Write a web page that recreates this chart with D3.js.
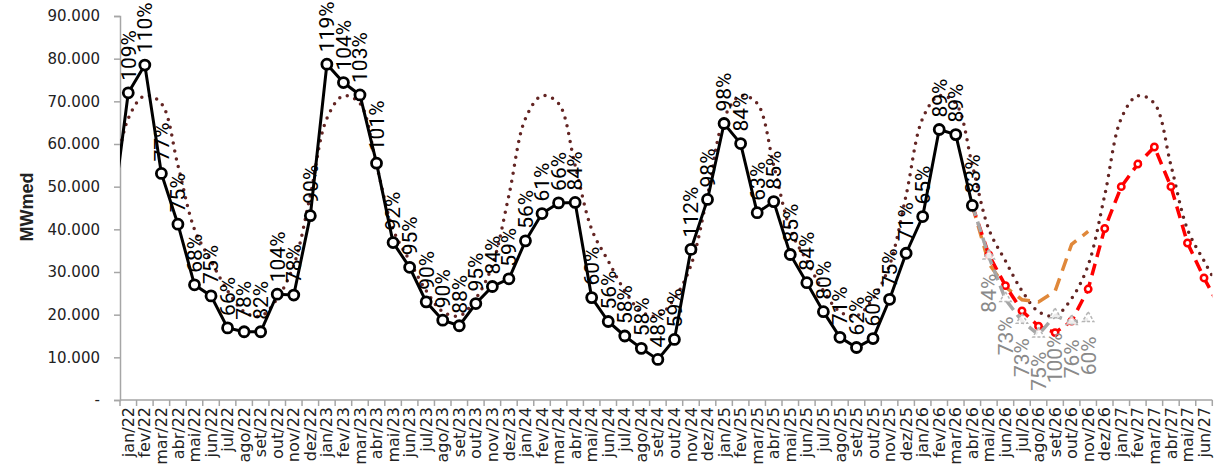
<!DOCTYPE html>
<html lang="pt">
<head>
<meta charset="UTF-8">
<title>ENA - MWmed</title>
<script src="https://d3js.org/d3.v7.min.js"></script>
<style>
    body { margin: 0; background: #fff; }
    svg { display: block; }
    .tick-lbl { font-family: "DejaVu Sans", sans-serif; font-size: 15px; fill: #222; }
    .xl { font-size: 16px; }
    .pct { font-family: Roboto, sans-serif; font-size: 21px; }
    .ytitle { font-family: "Liberation Sans", sans-serif; font-size: 18px; font-weight: bold; fill: #222; }
</style>
</head>
<body>
<div id="chart"></div>
<script>
    // categories: first and last are outside the plot (lines run into the edges)
    const months = ["dez/21",
        "jan/22", "fev/22", "mar/22", "abr/22", "mai/22", "jun/22", "jul/22", "ago/22", "set/22", "out/22", "nov/22", "dez/22",
        "jan/23", "fev/23", "mar/23", "abr/23", "mai/23", "jun/23", "jul/23", "ago/23", "set/23", "out/23", "nov/23", "dez/23",
        "jan/24", "fev/24", "mar/24", "abr/24", "mai/24", "jun/24", "jul/24", "ago/24", "set/24", "out/24", "nov/24", "dez/24",
        "jan/25", "fev/25", "mar/25", "abr/25", "mai/25", "jun/25", "jul/25", "ago/25", "set/25", "out/25", "nov/25", "dez/25",
        "jan/26", "fev/26", "mar/26", "abr/26", "mai/26", "jun/26", "jul/26", "ago/26", "set/26", "out/26", "nov/26", "dez/26",
        "jan/27", "fev/27", "mar/27", "abr/27", "mai/27", "jun/27",
        "jul/27"];

    // MLT (long term average), dez/21 .. jul/27
    const mlt = [48000,
        66000, 71300, 69500, 55000, 40000, 32600, 25600, 20700, 19700, 23800, 31600, 48000,
        66000, 71300, 69500, 55000, 40000, 32600, 25600, 20700, 19700, 23800, 31600, 48000,
        66000, 71300, 69500, 55000, 40000, 32600, 25600, 20700, 19700, 23800, 31600, 48000,
        66000, 71300, 69500, 55000, 40000, 32600, 25600, 20700, 19700, 23800, 31600, 48000,
        66000, 71300, 69500, 55000, 40000, 32600, 25600, 20700, 19700, 23800, 31600, 48000,
        66000, 71300, 69500, 55000, 40000, 32600, 25600];

    // verified, dez/21 .. abr/26
    const actual = [42000,
        72000, 78500, 53100, 41200, 27000, 24400, 16900, 16000, 16000, 24800, 24600, 43200,
        78700, 74400, 71500, 55500, 36900, 31100, 23000, 18700, 17400, 22600, 26600, 28400,
        37300, 43700, 46200, 46300, 24000, 18400, 15000, 12100, 9500, 14200, 35300, 47000,
        64800, 60100, 43900, 46500, 34100, 27500, 20700, 14700, 12300, 14400, 23600, 34400,
        43000, 63400, 62200, 45600];
    // % MLT labels, jan/22 .. abr/26
    const actualPct = [
        "109%", "110%", "77%", "75%", "68%", "75%", "66%", "78%", "82%", "104%", "78%", "90%",
        "119%", "104%", "103%", "101%", "92%", "95%", "90%", "90%", "88%", "95%", "84%", "59%",
        "56%", "61%", "66%", "84%", "60%", "56%", "58%", "58%", "48%", "59%", "112%", "98%",
        "98%", "84%", "63%", "85%", "85%", "84%", "80%", "71%", "62%", "60%", "75%", "71%",
        "65%", "89%", "89%", "83%"];

    // forecasts, all starting at abr/26
    const forecastStart = "abr/26";
    const redForecast = [45600, 34000, 26800, 20900, 17300, 15800, 18500, 26000, 40200,
        50000, 55300, 59300, 50000, 36800, 28600, 21400];
    const orangeForecast = [45600, 32000, 26500, 23500, 23000, 25500, 36500, 39500];
    const grayForecast = [45600, 33600, 23600, 18500, 15300, 19800, 18200, 18900];
    const grayPct = ["84%", "73%", "73%", "75%", "100%", "76%", "60%"];   // mai/26 .. nov/26

    const yTicks = [0, 10000, 20000, 30000, 40000, 50000, 60000, 70000, 80000, 90000];

    const width = 1222, height = 466;
    const plotL = 120, plotR = 1212.3, plotT = 16, plotB = 400;

    const svg = d3.select("#chart").append("svg")
        .attr("width", width).attr("height", height);

    // category index -> x ; index 0 (dez/21) and 67 (jul/27) fall outside the plot
    const x = d3.scaleLinear().domain([0.5, months.length - 1.5]).range([plotL, plotR]);
    const y = d3.scaleLinear().domain([0, 90000]).range([plotB, plotT]);

    const s0 = months.indexOf(forecastStart);

    svg.append("clipPath").attr("id", "plot")
        .append("rect").attr("x", plotL).attr("y", 0).attr("width", plotR - plotL).attr("height", height);

    // axes
    const locale = d3.formatLocale({ decimal: ",", thousands: ".", grouping: [3], currency: ["R$", ""] });
    const fmt = locale.format(",");

    const yAxis = svg.append("g")
        .attr("transform", `translate(${plotL},0)`)
        .call(d3.axisLeft(y).tickValues(yTicks).tickSize(6).tickPadding(14)
            .tickFormat(d => d === 0 ? "-" : fmt(d)));
    yAxis.select(".domain").attr("stroke", "#a6a6a6").attr("stroke-width", 1.5);
    yAxis.selectAll(".tick line").attr("stroke", "#a6a6a6").attr("stroke-width", 1.5);
    yAxis.selectAll(".tick text").attr("class", "tick-lbl");
    yAxis.attr("font-size", null).attr("font-family", null);

    const axisMonths = months.slice(1, months.length - 1);
    const xg = svg.append("g");
    xg.append("line")
        .attr("x1", plotL).attr("x2", plotR).attr("y1", plotB).attr("y2", plotB)
        .attr("stroke", "#a6a6a6").attr("stroke-width", 1.5);
    xg.selectAll(".xt")
        .data(d3.range(axisMonths.length + 1))
        .join("line")
        .attr("class", "xt")
        .attr("x1", i => x(i + 0.5)).attr("x2", i => x(i + 0.5))
        .attr("y1", plotB).attr("y2", plotB + 6)
        .attr("stroke", "#a6a6a6").attr("stroke-width", 1.5);
    xg.selectAll(".xl")
        .data(axisMonths)
        .join("text")
        .attr("class", "tick-lbl xl")
        .attr("text-anchor", "end")
        .attr("dy", "0.35em")
        .attr("transform", (d, i) => `translate(${x(i + 1)},${plotB + 7}) rotate(-90)`)
        .text(d => d);

    svg.append("text")
        .attr("class", "ytitle")
        .attr("text-anchor", "middle")
        .attr("transform", "translate(27,207) rotate(-90)")
        .attr("dy", "0.35em")
        .text("MWmed");

    // series
    const plot = svg.append("g").attr("clip-path", "url(#plot)");

    const straight = offset => d3.line().x((d, i) => x(i + offset)).y(d => y(d));

    plot.append("path")
        .datum(mlt)
        .attr("d", d3.line().x((d, i) => x(i)).y(d => y(d)).curve(d3.curveCatmullRom))
        .attr("fill", "none")
        .attr("stroke", "#632523")
        .attr("stroke-width", 3.5)
        .attr("stroke-linecap", "round")
        .attr("stroke-dasharray", "0,8");

    plot.append("path")
        .datum(orangeForecast)
        .attr("d", straight(s0))
        .attr("fill", "none")
        .attr("stroke", "#e0883a")
        .attr("stroke-width", 3.5)
        .attr("stroke-dasharray", "13,8");

    plot.append("path")
        .datum(redForecast)
        .attr("d", straight(s0))
        .attr("fill", "none")
        .attr("stroke", "#ff0000")
        .attr("stroke-width", 3.5)
        .attr("stroke-dasharray", "12,7");

    plot.selectAll(".redpt")
        .data(redForecast.slice(1))
        .join("circle")
        .attr("class", "redpt")
        .attr("cx", (d, i) => x(s0 + 1 + i))
        .attr("cy", d => y(d))
        .attr("r", 3.2)
        .attr("fill", "#fff")
        .attr("stroke", "#ff0000")
        .attr("stroke-width", 2.5);

    plot.append("path")
        .datum(grayForecast)
        .attr("d", straight(s0))
        .attr("fill", "none")
        .attr("stroke", "#a6a6a6")
        .attr("stroke-width", 3.5)
        .attr("stroke-dasharray", "11,6");

    plot.selectAll(".graypt")
        .data(grayForecast.slice(1))
        .join("path")
        .attr("class", "graypt")
        .attr("d", d3.symbol(d3.symbolTriangle, 55))
        .attr("transform", (d, i) => `translate(${x(s0 + 1 + i)},${y(d) - 1})`)
        .attr("fill", "#fff")
        .attr("fill-opacity", 0.8)
        .attr("stroke", "#b5b5b5")
        .attr("stroke-width", 1.5)
        .attr("stroke-dasharray", "3,2");

    plot.append("path")
        .datum(actual)
        .attr("d", straight(0))
        .attr("fill", "none")
        .attr("stroke", "#000")
        .attr("stroke-width", 3);

    plot.selectAll(".actpt")
        .data(actual.slice(1))
        .join("circle")
        .attr("class", "actpt")
        .attr("cx", (d, i) => x(i + 1))
        .attr("cy", d => y(d))
        .attr("r", 5)
        .attr("fill", "#fff")
        .attr("stroke", "#000")
        .attr("stroke-width", 2.8);

    // data labels
    svg.selectAll(".actlbl")
        .data(actualPct)
        .join("text")
        .attr("class", "pct actlbl")
        .attr("fill", "#000")
        .attr("dy", "0.35em")
        .attr("transform", (d, i) => `translate(${x(i + 1)},${y(actual[i + 1]) - 12}) rotate(-90)`)
        .text(d => d);

    svg.selectAll(".graylbl")
        .data(grayPct)
        .join("text")
        .attr("class", "pct graylbl")
        .attr("fill", "#8a8a8a")
        .attr("text-anchor", "end")
        .attr("dy", "0.35em")
        .attr("transform", (d, i) => `translate(${x(s0 + 1 + i)},${y(grayForecast[i + 1]) + 17}) rotate(-90)`)
        .text(d => d);
</script>
</body>
</html>
